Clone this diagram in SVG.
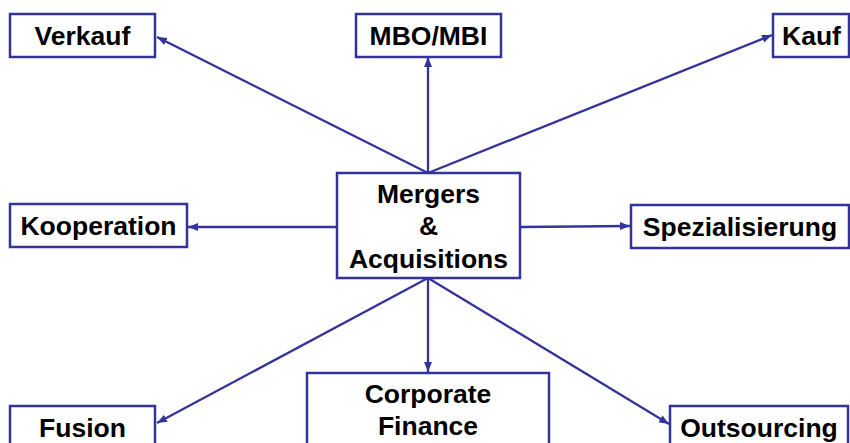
<svg xmlns="http://www.w3.org/2000/svg" width="850" height="443" viewBox="0 0 850 443">
  <style>
    .box { fill: #ffffff; stroke: #333399; stroke-width: 2.5; }
    .lbl { font-family: "Liberation Sans", Arial, sans-serif; font-weight: bold; font-size: 26.5px; fill: #000000; text-anchor: middle; }
    .edge { stroke: #333399; stroke-width: 2.3; fill: none; marker-end: url(#arrow); }
  </style>
  <defs>
    <marker id="arrow" markerUnits="userSpaceOnUse" markerWidth="12" markerHeight="10" refX="10" refY="4" orient="auto">
      <path d="M0,0 L10,4 L0,8 Z" fill="#333399"/>
    </marker>
  </defs>

  <rect width="850" height="443" fill="#ffffff"/>

  <!-- connectors from the central node -->
  <g id="connectors">
    <line class="edge" x1="428" y1="173" x2="157" y2="37"/>
    <line class="edge" x1="428" y1="173" x2="428" y2="57"/>
    <line class="edge" x1="428" y1="173" x2="772" y2="35"/>
    <line class="edge" x1="337" y1="227" x2="188" y2="227"/>
    <line class="edge" x1="520" y1="227" x2="630" y2="226"/>
    <line class="edge" x1="428" y1="278" x2="157" y2="423"/>
    <line class="edge" x1="428" y1="278" x2="428" y2="372"/>
    <line class="edge" x1="428" y1="278" x2="669" y2="424"/>
  </g>

  <g id="verkauf">
    <rect class="box" x="10" y="14" width="145" height="43"/>
    <text class="lbl" x="82.5" y="45">Verkauf</text>
  </g>

  <g id="mbo-mbi">
    <rect class="box" x="356" y="14" width="145" height="43"/>
    <text class="lbl" x="428.5" y="45">MBO/MBI</text>
  </g>

  <g id="kauf">
    <rect class="box" x="773" y="14" width="76" height="43"/>
    <text class="lbl" x="811.5" y="45">Kauf</text>
  </g>

  <g id="kooperation">
    <rect class="box" x="10" y="204" width="177" height="43"/>
    <text class="lbl" x="98.5" y="235">Kooperation</text>
  </g>

  <g id="mergers-acquisitions">
    <rect class="box" x="337" y="173" width="183" height="105"/>
    <text class="lbl" x="428.5" y="203">Mergers</text>
    <text class="lbl" x="428.5" y="235">&amp;</text>
    <text class="lbl" x="428.5" y="268">Acquisitions</text>
  </g>

  <g id="spezialisierung">
    <rect class="box" x="631" y="205" width="218" height="43"/>
    <text class="lbl" x="740" y="236">Spezialisierung</text>
  </g>

  <g id="fusion">
    <rect class="box" x="10" y="406" width="145" height="50"/>
    <text class="lbl" x="82.5" y="437">Fusion</text>
  </g>

  <g id="corporate-finance">
    <rect class="box" x="307" y="373" width="242" height="80"/>
    <text class="lbl" x="428" y="403">Corporate</text>
    <text class="lbl" x="428" y="435">Finance</text>
  </g>

  <g id="outsourcing">
    <rect class="box" x="670" y="406" width="178" height="50"/>
    <text class="lbl" x="759" y="437">Outsourcing</text>
  </g>
</svg>
